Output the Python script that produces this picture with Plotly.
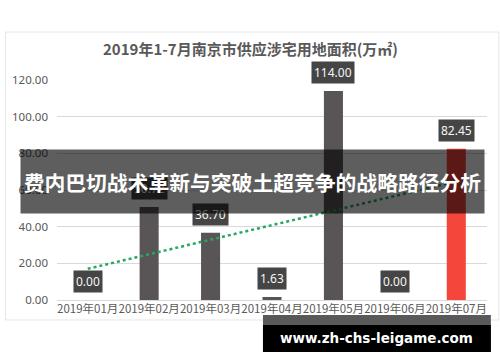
import plotly.graph_objects as go

# ---- data ----
months = ["2019年01月", "2019年02月", "2019年03月", "2019年04月",
          "2019年05月", "2019年06月", "2019年07月"]
areas = [0.00, 50.72, 36.70, 1.63, 114.00, 0.00, 82.45]
bar_colors = ["#595556", "#595556", "#595556", "#595556", "#595556", "#595556", "#f4463a"]
trend_months = ["2019年01月", "2019年07月"]
trend_values = [17.0, 64.7]
y_ticks = [0, 20, 40, 60, 80, 100, 120]

title_text = "2019年1-7月南京市供应涉宅用地面积(万㎡)"
banner_text = "费内巴切战术革新与突破土超竞争的战略路径分析"
watermark_text = "www.zh-chs-leigame.com"

CJK = "Noto Sans CJK SC, Microsoft YaHei, sans-serif"

fig = go.Figure()
fig.add_trace(go.Bar(
    x=months, y=areas, marker=dict(color=bar_colors, line=dict(width=0)),
    width=0.31, hoverinfo="skip", showlegend=False,
))
fig.add_trace(go.Scatter(
    x=trend_months, y=trend_values, mode="lines",
    line=dict(color="#27a85e", width=2.5, dash="dot"),
    hoverinfo="skip", showlegend=False,
))

annotations = []
for m, v in zip(months, areas):
    annotations.append(dict(
        x=m, y=v, xref="x", yref="y", text=f"{v:.2f}", showarrow=False,
        yanchor="bottom", yshift=7, bgcolor="#454545", borderpad=2,
        font=dict(family="Noto Sans, sans-serif", size=12, color="#f5f5f5"),
    ))

# Banner overlay (drawn above labels)
annotations.append(dict(
    x=0.5, y=0.5386, xref="paper", yref="paper", xshift=-19.5,
    xanchor="center", yanchor="middle", showarrow=False,
    text=f"<b>{banner_text}</b>", width=463, height=63, borderpad=0,
    bgcolor="rgba(0,0,0,0.63)",
    font=dict(family=CJK, size=20.8, color="#ffffff"),
))
# Watermark text
annotations.append(dict(
    x=0.744, y=-0.1727, xref="paper", yref="paper",
    xanchor="center", yanchor="middle", showarrow=False,
    text=f"<b>{watermark_text}</b>",
    font=dict(family="DejaVu Sans, sans-serif", size=13.5, color="#ffffff"),
))

shapes = [
    # outer chart border
    dict(type="rect", xref="paper", yref="paper", x0=-0.1198, x1=1.0276,
         y0=-0.0909, y1=1.218, line=dict(color="#e6e6e6", width=1), layer="below"),
    # watermark boxes
    dict(type="rect", xref="paper", yref="paper", x0=0.479, x1=1.009,
         y0=-0.236, y1=-0.0682, fillcolor="#595959", line=dict(width=0), layer="above"),
    dict(type="rect", xref="paper", yref="paper", x0=0.479, x1=1.009,
         y0=-0.236, y1=-0.1136, fillcolor="#000000", line=dict(width=0), layer="above"),
]

fig.update_layout(
    width=500, height=362,
    margin=dict(l=53, r=13, t=80, b=62),
    paper_bgcolor="#ffffff", plot_bgcolor="#ffffff",
    title=dict(text=f"<b>{title_text}</b>", x=0.501, xanchor="center",
               y=0.862, yanchor="middle",
               font=dict(family=CJK, size=15, color="#595959")),
    xaxis=dict(showgrid=False, showline=False, ticks="", tickangle=0,
               tickfont=dict(family=CJK, size=11.5, color="#595959")),
    yaxis=dict(range=[0, 120], tickvals=y_ticks, tickformat=".2f",
               showgrid=True, gridcolor="#d9d9d9", gridwidth=1,
               zeroline=True, zerolinecolor="#d9d9d9", zerolinewidth=1,
               showline=False, ticks="", ticklabelstandoff=8,
               tickfont=dict(family="Noto Sans, sans-serif", size=11.5, color="#595959")),
    annotations=annotations, shapes=shapes,
    bargap=0.69,
)

fig.write_html("out.html")
